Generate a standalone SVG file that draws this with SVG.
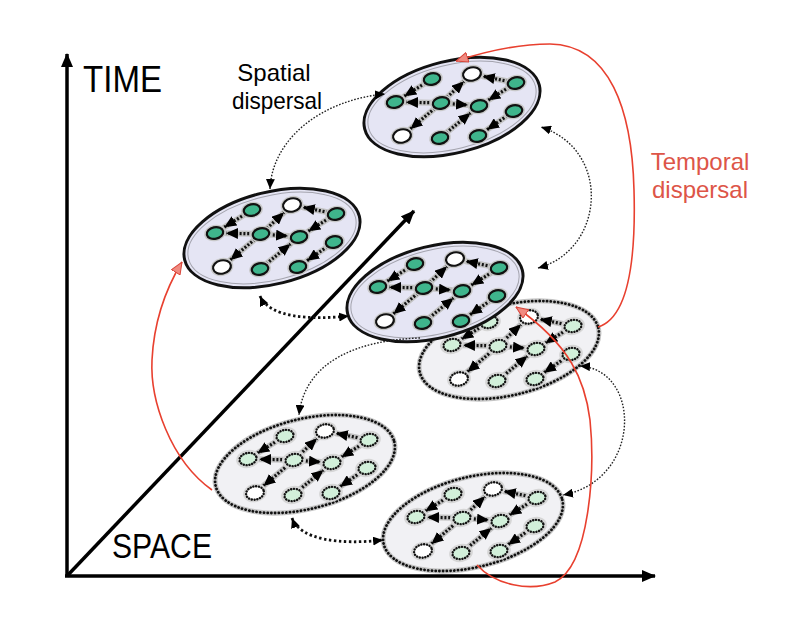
<svg xmlns="http://www.w3.org/2000/svg" xmlns:xlink="http://www.w3.org/1999/xlink" width="800" height="619" viewBox="0 0 800 619">
<style>
.axis{stroke:#000;stroke-width:3.5;fill:none}
.halo{stroke:#c2c2c2;stroke-width:6;fill:none;stroke-linecap:round}
.dots{stroke:#111;stroke-width:3.2;fill:none;stroke-dasharray:2 1.8}
.conn{stroke:#222;stroke-width:1.4;fill:none;stroke-dasharray:1.6 1.6}
.connb{stroke:#111;stroke-width:2.8;fill:none;stroke-dasharray:2.4 2.6}
.red{stroke:#e8402f;stroke-width:1.6;fill:none}
.lbl{font-family:"Liberation Sans",Arial,sans-serif;fill:#000}
.rlbl{font-family:"Liberation Sans",Arial,sans-serif;fill:#dd5548}
</style>
<defs>
<marker id="ah" viewBox="0 0 12 11" refX="12" refY="5.5" markerWidth="12" markerHeight="11" markerUnits="userSpaceOnUse" orient="auto"><path d="M0,0 L12,5.5 L0,11 z" fill="#000"/></marker>
<marker id="ahs" viewBox="0 0 10 9" refX="10" refY="4.5" markerWidth="10" markerHeight="9" markerUnits="userSpaceOnUse" orient="auto-start-reverse"><path d="M0,0 L10,4.5 L0,9 z" fill="#000"/></marker>
<marker id="axh" viewBox="0 0 14 12" refX="13" refY="6" markerWidth="14" markerHeight="12" markerUnits="userSpaceOnUse" orient="auto"><path d="M0,0 L14,6 L0,12 z" fill="#000"/></marker>
<marker id="rah" viewBox="0 0 13 11" refX="12.5" refY="5.5" markerWidth="13" markerHeight="11" markerUnits="userSpaceOnUse" orient="auto"><path d="M0.5,0.5 L12.5,5.5 L0.5,10.5 z" fill="#f08a80" stroke="#d8453a" stroke-width="1"/></marker>

<g id="gn"><ellipse rx="11" ry="8.2" fill="#c8c8c8" transform="rotate(-12)"/><ellipse rx="8.3" ry="5.8" fill="#3fb58c" stroke="#111" stroke-width="2.2" transform="rotate(-12)"/></g>
<g id="wn"><ellipse rx="11.5" ry="9" fill="#c8c8c8" transform="rotate(-12)"/><ellipse rx="9" ry="6.6" fill="#fff" stroke="#111" stroke-width="2.2" transform="rotate(-12)"/></g>
<g id="fgn"><ellipse rx="12" ry="9" fill="#d6d6d6" transform="rotate(-12)"/><ellipse rx="8.6" ry="6" fill="#d2f0da" stroke="#111" stroke-width="2.4" stroke-dasharray="0.1 2.7" stroke-linecap="round" transform="rotate(-12)"/></g>
<g id="fwn"><ellipse rx="12" ry="9.2" fill="#d6d6d6" transform="rotate(-12)"/><ellipse rx="9" ry="6.6" fill="#fff" stroke="#111" stroke-width="2.4" stroke-dasharray="0.1 2.7" stroke-linecap="round" transform="rotate(-12)"/></g>

<g id="edges">
<path d="M-26.8,-23.8 L-47.7,-10.8"/>
<path d="M-19,-4.2 L-46,-4.8"/>
<path d="M-5.2,-9.5 L12,-25.5"/>
<path d="M56.2,-25.6 L30.8,-30.8"/>
<path d="M57.2,-19.8 L36.3,-6.8"/>
<path d="M-3,-3.4 L16,-1.9"/>
<path d="M-17.1,1.2 L-41.6,21.9"/>
<path d="M-5.8,25.9 L18.5,6"/>
<path d="M55.4,8.6 L35,22.7"/>
</g>

<g id="net-solid">
<ellipse rx="90" ry="46" transform="rotate(-14)" fill="#e5e5f4" stroke="#111" stroke-width="3"/>
<ellipse rx="86" ry="42" transform="rotate(-14)" fill="none" stroke="#a4a4ae" stroke-width="1"/>
<use href="#edges" class="halo"/>
<use href="#edges" class="dots" marker-end="url(#ah)"/>
<use href="#gn" x="-20" y="-28"/>
<use href="#wn" x="20" y="-33"/>
<use href="#gn" x="64" y="-24"/>
<use href="#gn" x="-57" y="-5"/>
<use href="#gn" x="-11" y="-4"/>
<use href="#gn" x="27" y="-1"/>
<use href="#gn" x="62" y="4"/>
<use href="#wn" x="-50" y="29"/>
<use href="#gn" x="-12" y="31"/>
<use href="#gn" x="26" y="29"/>
</g>

<g id="net-faded">
<ellipse rx="92" ry="45" transform="rotate(-14)" fill="#f1f1f4" stroke="#c4c4c4" stroke-width="5"/>
<ellipse rx="92" ry="45" transform="rotate(-14)" fill="none" stroke="#111" stroke-width="2.8" stroke-dasharray="0.1 3.6" stroke-linecap="round"/>
<use href="#edges" class="halo"/>
<use href="#edges" class="dots" marker-end="url(#ah)"/>
<use href="#fgn" x="-20" y="-28"/>
<use href="#fwn" x="20" y="-33"/>
<use href="#fgn" x="64" y="-24"/>
<use href="#fgn" x="-57" y="-5"/>
<use href="#fgn" x="-11" y="-4"/>
<use href="#fgn" x="27" y="-1"/>
<use href="#fgn" x="62" y="4"/>
<use href="#fwn" x="-50" y="29"/>
<use href="#fgn" x="-12" y="31"/>
<use href="#fgn" x="26" y="29"/>
</g>
</defs>

<rect width="800" height="619" fill="#fff"/>

<g id="axes">
<path class="axis" d="M67,577 L67,54" marker-end="url(#axh)"/>
<path class="axis" d="M65,576 L655,576" marker-end="url(#axh)"/>
<path class="axis" d="M67,576 L414,211" stroke-width="3" marker-end="url(#axh)"/>
</g>

<g id="patch-faded-right" transform="translate(509,350)"><use href="#net-faded"/></g>
<g id="patch-faded-left" transform="translate(305,464)"><use href="#net-faded"/></g>
<g id="patch-faded-bottom" transform="translate(473,522)"><use href="#net-faded"/></g>
<g id="patch-top" transform="translate(452,107)"><use href="#net-solid"/></g>
<g id="patch-left" transform="translate(272,238)"><use href="#net-solid"/></g>
<g id="patch-middle" transform="translate(435,292)"><use href="#net-solid"/></g>

<g id="connectors">
<path class="conn" d="M270,189 C272,140 320,100 385,94" marker-start="url(#ahs)" marker-end="url(#ahs)"/>
<path class="conn" d="M538,268 C605,250 612,150 541,127" marker-start="url(#ahs)" marker-end="url(#ahs)"/>
<path class="connb" d="M260,296 C270,318 310,320 349,316" marker-start="url(#ahs)" marker-end="url(#ahs)"/>
<path class="conn" d="M420,338 C360,340 305,360 299,415" marker-end="url(#ahs)"/>
<path class="conn" d="M580,366 C642,370 642,480 563,495" marker-start="url(#ahs)" marker-end="url(#ahs)"/>
<path class="connb" d="M292,518 C300,540 340,545 383,540" marker-start="url(#ahs)" marker-end="url(#ahs)"/>
</g>

<g id="temporal">
<path class="red" d="M598,327 C628,318 636,260 634,190 C632,110 610,45 550,44 C520,44 490,50 456,61" marker-end="url(#rah)"/>
<path class="red" d="M212,490 C170,460 150,400 152,360 C154,320 165,290 182,262" marker-end="url(#rah)"/>
<path class="red" d="M477,565 C495,585 530,592 555,582 C590,565 595,470 590,420 C585,380 570,345 516,307" marker-end="url(#rah)"/>
</g>

<g id="labels">
<text class="lbl" x="83" y="92" font-size="37" textLength="79" lengthAdjust="spacingAndGlyphs">TIME</text>
<text class="lbl" x="112" y="558" font-size="35" textLength="100" lengthAdjust="spacingAndGlyphs">SPACE</text>
<text class="lbl" x="274" y="81" font-size="24" text-anchor="middle">Spatial</text>
<text class="lbl" x="277" y="109" font-size="24" text-anchor="middle" textLength="90" lengthAdjust="spacingAndGlyphs">dispersal</text>
<text class="rlbl" x="700" y="170" font-size="24" text-anchor="middle">Temporal</text>
<text class="rlbl" x="700" y="198" font-size="24" text-anchor="middle">dispersal</text>
</g>
</svg>
